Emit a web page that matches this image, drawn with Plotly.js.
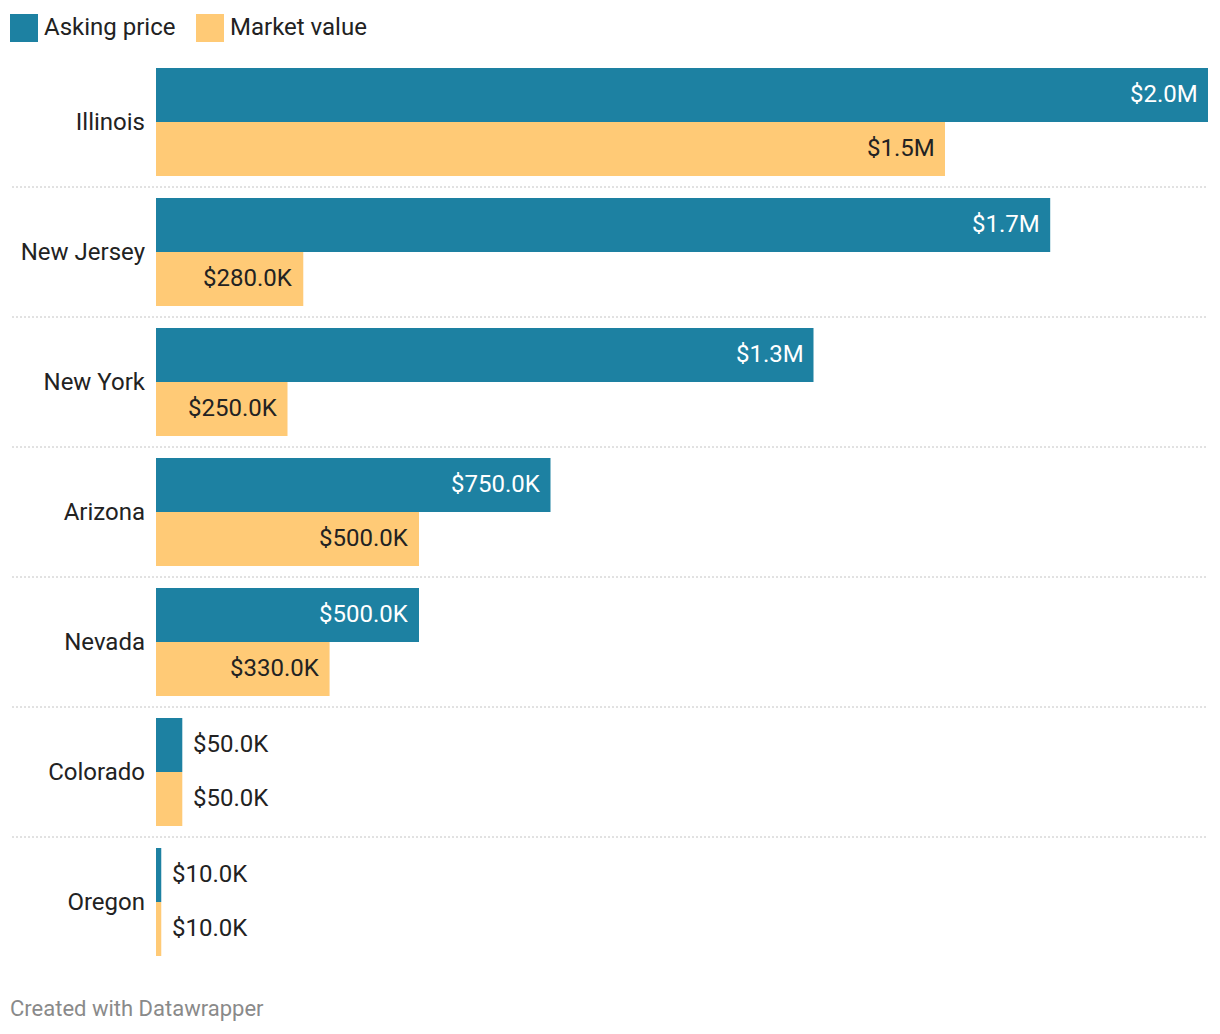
<!DOCTYPE html>
<html>
<head>
<meta charset="utf-8">
<script src="https://cdn.plot.ly/plotly-3.0.1.min.js"></script>
<style>
html,body{margin:0;padding:0;background:#fff;}
#chart{width:1220px;height:1034px;}
</style>
</head>
<body>
<div id="chart"></div>
<script>
// ---- data ----
const states = ["Illinois", "New Jersey", "New York", "Arizona", "Nevada", "Colorado", "Oregon"];
const askingPrice = [2000000, 1700000, 1250000, 750000, 500000, 50000, 10000];
const marketValue = [1500000, 280000, 250000, 500000, 330000, 50000, 10000];
const seriesNames = ["Asking price", "Market value"];
const footerText = "Created with Datawrapper";

// ---- style ----
const W = 1220, H = 1034;
const M = {l: 156, r: 12, t: 57, b: 67};
const PW = W - M.l - M.r, PH = H - M.t - M.b;
const FONT = "Roboto, 'Noto Sans', sans-serif";
const TEXT = "#222222";
const C_ASK = "#1d81a2", C_MKT = "#ffca76";
const XMAX = 2000000;
const FS = 24;

function px2x(px){ return (px - M.l) / PW; }
function px2y(py){ return (H - M.b - py) / PH; }
function fmt(v){
  if (v >= 1e6) return "$" + (v/1e6).toFixed(1) + "M";
  return "$" + (v/1e3).toFixed(1) + "K";
}

const traces = [
  {type:"bar", orientation:"h", name:seriesNames[0], y:states, x:askingPrice,
   marker:{color:C_ASK}, hoverinfo:"skip"},
  {type:"bar", orientation:"h", name:seriesNames[1], y:states, x:marketValue,
   marker:{color:C_MKT}, hoverinfo:"skip"}
];

const annotations = [];
const shapes = [];
// value labels
[[askingPrice, 28, "#ffffff"], [marketValue, -26, TEXT]].forEach(([arr, ys, inCol]) => {
  arr.forEach((v, i) => {
    const barPx = v / XMAX * PW;
    const lbl = fmt(v);
    const need = lbl.length * FS * 0.55 + 22;
    const inside = barPx > need;
    annotations.push({
      x: v, y: states[i], xref:"x", yref:"y",
      text: lbl, showarrow:false,
      xanchor: inside ? "right" : "left",
      xshift: inside ? -8 : 9, yshift: ys,
      font:{family:FONT, size:FS, color: inside ? inCol : TEXT}
    });
  });
});
// separators
for (let i = 0; i < states.length - 1; i++) {
  shapes.push({type:"line", xref:"paper", yref:"y", x0:px2x(12), x1:1, y0:i+0.5, y1:i+0.5,
    line:{color:"#c4c4c4", width:1, dash:"2px,2px"}});
}
// legend
const legendItems = [[seriesNames[0], C_ASK, 10], [seriesNames[1], C_MKT, 196]];
legendItems.forEach(([name, col, x]) => {
  shapes.push({type:"rect", xref:"paper", yref:"paper", x0:px2x(x), x1:px2x(x+28), y0:px2y(42), y1:px2y(14),
    fillcolor:col, line:{width:0}});
  annotations.push({xref:"paper", yref:"paper", x:px2x(x+32), y:px2y(27), xanchor:"left", yanchor:"middle",
    text:name, showarrow:false, font:{family:FONT, size:FS, color:TEXT}});
});
// footer
annotations.push({xref:"paper", yref:"paper", x:px2x(8), y:px2y(1008), xanchor:"left", yanchor:"middle",
  text:footerText, showarrow:false, font:{family:FONT, size:22, color:"#8a8a8a"}});

const layout = {
  width: W, height: H,
  margin: M,
  paper_bgcolor:"#fff", plot_bgcolor:"#fff",
  barmode:"group", bargap: 22/130, bargroupgap: 0,
  showlegend:false,
  xaxis:{range:[0, XMAX], showgrid:false, zeroline:false, showticklabels:false, ticks:"", showline:false, fixedrange:true},
  yaxis:{type:"category", autorange:"reversed", showgrid:false, zeroline:false, showline:false, ticks:"",
    ticklabelstandoff: 10,
    tickfont:{family:FONT, size:FS, color:TEXT}, fixedrange:true},
  shapes: shapes,
  annotations: annotations,
  font:{family:FONT}
};

Plotly.newPlot("chart", traces, layout, {displayModeBar:false, staticPlot:true});
</script>
</body>
</html>
